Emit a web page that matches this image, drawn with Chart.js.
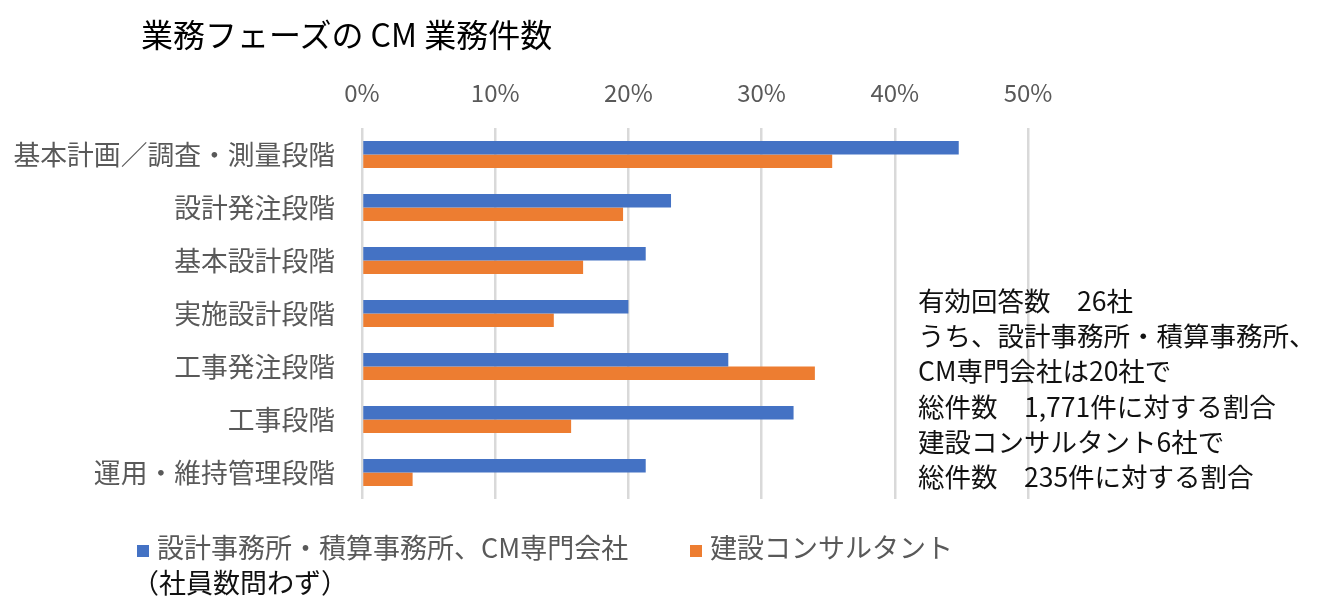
<!DOCTYPE html>
<html>
<head>
<meta charset="utf-8">
<script src="https://cdn.jsdelivr.net/npm/chart.js@4"></script>
<style>
  html, body { margin: 0; padding: 0; background: #fff; }
  #wrap { position: relative; width: 1322px; height: 612px; overflow: hidden; font-family: 'Noto Sans CJK JP', sans-serif; }
  #c { position: absolute; left: 0; top: 0; }
  #title { position: absolute; left: 141px; top: 10px; font-size: 32px; line-height: 46px; color: #000; white-space: nowrap; }
  #note { position: absolute; left: 918px; top: 282px; font-size: 26.5px; line-height: 35.2px; color: #111; white-space: nowrap; }
  #legend { position: absolute; left: 137px; top: 528px; font-size: 27px; line-height: 38px; color: #595959; white-space: nowrap; }
  .li { position: absolute; top: 0; }
  .sw { display: inline-block; width: 12px; height: 12px; margin-right: 8px; vertical-align: 1px; }
  #sub { position: absolute; left: 132px; top: 563px; font-size: 27px; line-height: 38px; color: #111; white-space: nowrap; }
</style>
</head>
<body>
<div id="wrap">
  <canvas id="c" width="1322" height="612"></canvas>
  <div id="title">業務フェーズの CM 業務件数</div>
  <div id="note"></div>
  <div id="legend"></div>
  <div id="sub">（社員数問わず）</div>
</div>
<script>
const categories = ['基本計画／調査・測量段階', '設計発注段階', '基本設計段階', '実施設計段階', '工事発注段階', '工事段階', '運用・維持管理段階'];
const cmFirmValues = [44.8, 23.2, 21.3, 20.0, 27.5, 32.4, 21.3];
const consultantValues = [35.3, 19.6, 16.6, 14.4, 34.0, 15.7, 3.8];
const seriesLabels = ['設計事務所・積算事務所、CM専門会社', '建設コンサルタント'];
const seriesColors = ['#4472C4', '#ED7D31'];
const tickLabels = ['0%', '10%', '20%', '30%', '40%', '50%'];
const noteLines = ['有効回答数　26社', 'うち、設計事務所・積算事務所、', 'CM専門会社は20社で', '総件数　1,771件に対する割合', '建設コンサルタント6社で', '総件数　235件に対する割合'];

document.getElementById('note').innerHTML = noteLines.map(s => '<div>' + s + '</div>').join('');
const legendX = [0, 553];
document.getElementById('legend').innerHTML = seriesLabels.map((s, i) =>
  '<span class="li" style="left:' + legendX[i] + 'px"><span class="sw" style="background:' + seriesColors[i] + '"></span>' + s + '</span>').join('');

Chart.defaults.font.family = "'Noto Sans CJK JP', sans-serif";

new Chart(document.getElementById('c'), {
  type: 'bar',
  data: {
    labels: categories,
    datasets: [
      { label: seriesLabels[0], data: cmFirmValues, backgroundColor: seriesColors[0] },
      { label: seriesLabels[1], data: consultantValues, backgroundColor: seriesColors[1] }
    ]
  },
  options: {
    indexAxis: 'y',
    responsive: false,
    animation: false,
    layout: { padding: { left: 0, right: 294, top: 70, bottom: 113 } },
    datasets: { bar: { categoryPercentage: 0.51, barPercentage: 1.0 } },
    plugins: { legend: { display: false }, title: { display: false }, tooltip: { enabled: false } },
    scales: {
      x: {
        position: 'top',
        min: 0, max: 50,
        ticks: {
          stepSize: 10,
          color: '#595959',
          font: { size: 24 },
          padding: 21,
          callback: (v, i) => tickLabels[i]
        },
        grid: { color: '#D9D9D9', lineWidth: 2.5, drawTicks: false },
        border: { display: false },
        afterFit: s => { s.height = 58; }
      },
      y: {
        ticks: { color: '#595959', font: { size: 26.8 }, padding: 27 },
        grid: { display: false, drawTicks: false },
        border: { display: false },
        afterFit: s => { s.width = 362; }
      }
    }
  }
});
</script>
</body>
</html>
